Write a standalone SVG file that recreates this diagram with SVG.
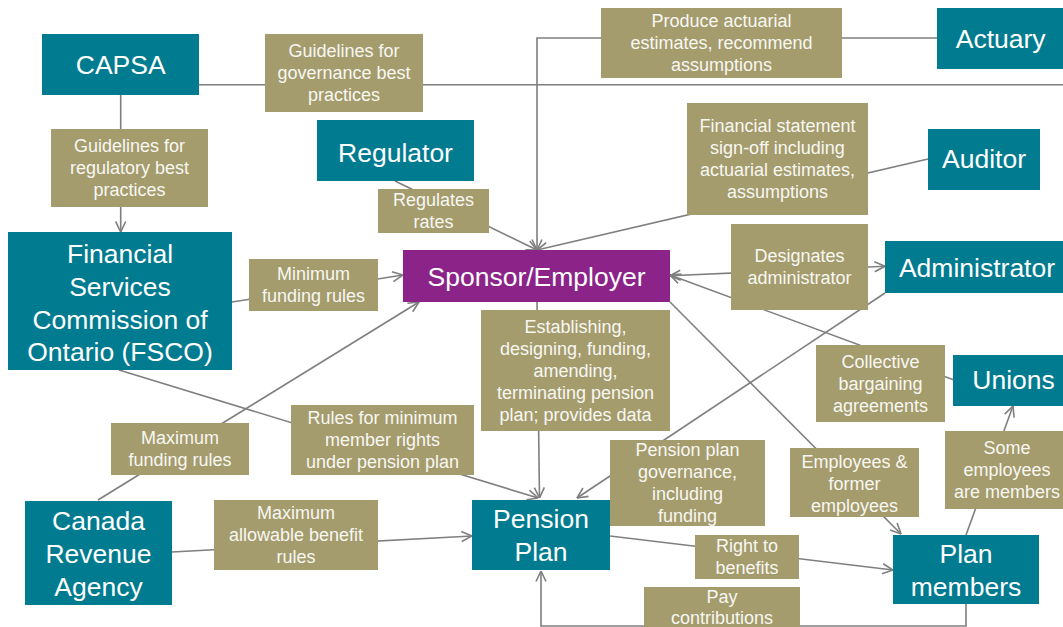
<svg xmlns="http://www.w3.org/2000/svg" width="1063" height="627" viewBox="0 0 1063 627">
<defs>
<style>
.n{fill:#007B8F}
.sp{fill:#8C2389}
.lb{fill:#A59C6D}
.nt{font-family:"Liberation Sans",Arial,sans-serif;font-size:26.5px;fill:#FFFFFF;text-anchor:middle}
.lt{font-family:"Liberation Sans",Arial,sans-serif;font-size:18px;fill:#F7F7F2;text-anchor:middle}
.c{fill:none;stroke:#7F7F7F;stroke-width:1.6}
.a{marker-end:url(#arr)}
</style>
<marker id="arr" viewBox="0 0 12 12" refX="11.5" refY="6" markerWidth="12" markerHeight="12" markerUnits="userSpaceOnUse" orient="auto-start-reverse">
<path d="M1,1 L11.5,6 L1,11" fill="none" stroke="#7F7F7F" stroke-width="1.6"/>
</marker>
</defs>
<rect width="1063" height="627" fill="#FFFFFF"/>

<g id="connectors">
<path class="c a" d="M120.7,95 V232"/>
<path class="c" d="M199,84.7 H1063"/>
<path class="c a" d="M937,38 H537 V250"/>
<path class="c a" d="M395,181 L537,250"/>
<path class="c a" d="M928,159 L537,250"/>
<path class="c a" d="M232,302 L403,275"/>
<path class="c a" d="M670,275.7 L885,266.3" marker-start="url(#arr)"/>
<path class="c a" d="M954,380 L670,275"/>
<path class="c a" d="M670,302 L901,534"/>
<path class="c a" d="M885,293 L577,498"/>
<path class="c a" d="M537,302 L539.5,498"/>
<path class="c a" d="M98,500 L419,302"/>
<path class="c a" d="M119,370 L538,498"/>
<path class="c a" d="M172,552 L472,536"/>
<path class="c a" d="M610,536 L893,570"/>
<path class="c a" d="M966,604 V626 H541 V571"/>
<path class="c a" d="M966,535 L1013,406"/>

<g id="lbl-governance"><rect class="lb" x="265" y="34" width="158" height="78"/><text class="lt"><tspan x="344" y="57.3">Guidelines for</tspan><tspan x="344" y="79.3">governance best</tspan><tspan x="344" y="101.3">practices</tspan></text></g>
<g id="lbl-regulatory"><rect class="lb" x="51" y="129" width="157" height="78"/><text class="lt"><tspan x="129.5" y="152.3">Guidelines for</tspan><tspan x="129.5" y="174.3">regulatory best</tspan><tspan x="129.5" y="196.3">practices</tspan></text></g>
<g id="lbl-produce"><rect class="lb" x="601" y="8" width="241" height="70"/><text class="lt"><tspan x="721.5" y="27.3">Produce actuarial</tspan><tspan x="721.5" y="49.3">estimates, recommend</tspan><tspan x="721.5" y="71.3">assumptions</tspan></text></g>
<g id="lbl-regulates"><rect class="lb" x="378" y="189" width="111" height="44"/><text class="lt"><tspan x="433.5" y="206.3">Regulates</tspan><tspan x="433.5" y="228.3">rates</tspan></text></g>
<g id="lbl-financial"><rect class="lb" x="687" y="103" width="181" height="112"/><text class="lt"><tspan x="777.5" y="132.3">Financial statement</tspan><tspan x="777.5" y="154.3">sign-off including</tspan><tspan x="777.5" y="176.3">actuarial estimates,</tspan><tspan x="777.5" y="198.3">assumptions</tspan></text></g>
<g id="lbl-minfund"><rect class="lb" x="249" y="259" width="129" height="52"/><text class="lt"><tspan x="313.5" y="280.3">Minimum</tspan><tspan x="313.5" y="302.3">funding rules</tspan></text></g>
<g id="lbl-designates"><rect class="lb" x="731" y="224" width="137" height="86"/><text class="lt"><tspan x="799.5" y="262.3">Designates</tspan><tspan x="799.5" y="284.3">administrator</tspan></text></g>
<g id="lbl-establishing"><rect class="lb" x="481" y="310" width="189" height="121"/><text class="lt"><tspan x="575.5" y="332.8">Establishing,</tspan><tspan x="575.5" y="354.8">designing, funding,</tspan><tspan x="575.5" y="376.8">amending,</tspan><tspan x="575.5" y="398.8">terminating pension</tspan><tspan x="575.5" y="420.8">plan; provides data</tspan></text></g>
<g id="lbl-collective"><rect class="lb" x="816" y="345" width="129" height="77"/><text class="lt"><tspan x="880.5" y="367.8">Collective</tspan><tspan x="880.5" y="389.8">bargaining</tspan><tspan x="880.5" y="411.8">agreements</tspan></text></g>
<g id="lbl-maxfund"><rect class="lb" x="111" y="423" width="138" height="52"/><text class="lt"><tspan x="180" y="444.3">Maximum</tspan><tspan x="180" y="466.3">funding rules</tspan></text></g>
<g id="lbl-rules"><rect class="lb" x="291" y="405" width="183" height="70"/><text class="lt"><tspan x="382.5" y="424.3">Rules for minimum</tspan><tspan x="382.5" y="446.3">member rights</tspan><tspan x="382.5" y="468.3">under pension plan</tspan></text></g>
<g id="lbl-govern"><rect class="lb" x="610" y="440" width="155" height="86"/><text class="lt"><tspan x="687.5" y="456.3">Pension plan</tspan><tspan x="687.5" y="478.3">governance,</tspan><tspan x="687.5" y="500.3">including</tspan><tspan x="687.5" y="522.3">funding</tspan></text></g>
<g id="lbl-employees"><rect class="lb" x="790" y="448" width="129" height="69"/><text class="lt"><tspan x="854.5" y="467.8">Employees &amp;</tspan><tspan x="854.5" y="489.8">former</tspan><tspan x="854.5" y="511.8">employees</tspan></text></g>
<g id="lbl-some"><rect class="lb" x="945" y="431" width="120" height="78"/><text class="lt"><tspan x="1007" y="454.3">Some</tspan><tspan x="1007" y="476.3">employees</tspan><tspan x="1007" y="498.3">are members</tspan></text></g>
<g id="lbl-maxben"><rect class="lb" x="214" y="500" width="164" height="70"/><text class="lt"><tspan x="296" y="519.3">Maximum</tspan><tspan x="296" y="541.3">allowable benefit</tspan><tspan x="296" y="563.3">rules</tspan></text></g>
<g id="lbl-right"><rect class="lb" x="695" y="535" width="104" height="44"/><text class="lt"><tspan x="747" y="552.3">Right to</tspan><tspan x="747" y="574.3">benefits</tspan></text></g>
<g id="lbl-pay"><rect class="lb" x="644" y="587" width="156" height="45"/><text class="lt"><tspan x="722" y="603">Pay</tspan><tspan x="722" y="623.5">contributions</tspan></text></g>
</g>

<g id="capsa"><rect class="n" x="42" y="34" width="157" height="61"/><text class="nt" x="120.7" y="74">CAPSA</text></g>
<g id="regulator"><rect class="n" x="317" y="120" width="157" height="61"/><text class="nt" x="395.5" y="161.5">Regulator</text></g>
<g id="actuary"><rect class="n" x="937" y="8" width="130" height="61"/><text class="nt" x="1000.7" y="48">Actuary</text></g>
<g id="auditor"><rect class="n" x="928" y="129" width="112" height="61"/><text class="nt" x="984" y="168">Auditor</text></g>
<g id="fsco"><rect class="n" x="8" y="232" width="224" height="138"/><text class="nt"><tspan x="120" y="263">Financial</tspan><tspan x="120" y="296">Services</tspan><tspan x="120" y="329">Commission of</tspan><tspan x="120" y="361">Ontario (FSCO)</tspan></text></g>
<g id="sponsor"><rect class="sp" x="403" y="250" width="267" height="52"/><text class="nt" x="536.5" y="285.5">Sponsor/Employer</text></g>
<g id="administrator"><rect class="n" x="885" y="241" width="185" height="52"/><text class="nt" x="977" y="277">Administrator</text></g>
<g id="unions"><rect class="n" x="953" y="355" width="115" height="51"/><text class="nt" x="1013.5" y="389">Unions</text></g>
<g id="cra"><rect class="n" x="25" y="501" width="147" height="104"/><text class="nt"><tspan x="98.5" y="529.5">Canada</tspan><tspan x="98.5" y="562.5">Revenue</tspan><tspan x="98.5" y="595.5">Agency</tspan></text></g>
<g id="pension"><rect class="n" x="472" y="500" width="138" height="70"/><text class="nt"><tspan x="541" y="528">Pension</tspan><tspan x="541" y="561">Plan</tspan></text></g>
<g id="members"><rect class="n" x="893" y="535" width="146" height="69"/><text class="nt"><tspan x="966" y="562.5">Plan</tspan><tspan x="966" y="595.5">members</tspan></text></g>
</svg>
